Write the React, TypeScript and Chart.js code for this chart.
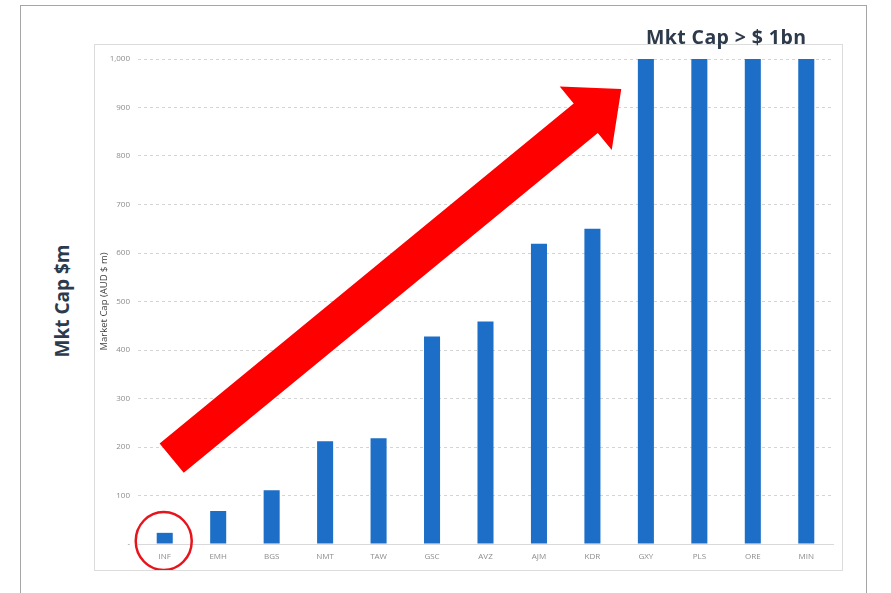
import React, { useEffect, useRef } from "react";
import { Chart, registerables } from "chart.js";

Chart.register(...registerables);

const categories = ["INF", "EMH", "BGS", "NMT", "TAW", "GSC", "AVZ", "AJM", "KDR", "GXY", "PLS", "ORE", "MIN"];
const marketCap = [23, 68, 111, 212, 218, 428, 459, 619, 650, 1000, 1000, 1000, 1000];
const yTicks = [0, 100, 200, 300, 400, 500, 600, 700, 800, 900, 1000];
const arrowFrom = [0.13, 177];
const arrowTo = [8.54, 938];
const circledIndex = 0;

const arrowPlugin = {
  id: "arrowAndCircle",
  afterDatasetsDraw(chart: any) {
    const { ctx, scales } = chart;
    const xs = scales.x;
    const ys = scales.y;
    const x0 = xs.getPixelForValue(arrowFrom[0]);
    const y0 = ys.getPixelForValue(arrowFrom[1]);
    const x1 = xs.getPixelForValue(arrowTo[0]);
    const y1 = ys.getPixelForValue(arrowTo[1]);
    const dx = x1 - x0;
    const dy = y1 - y0;
    const len = Math.sqrt(dx * dx + dy * dy);
    const ux = dx / len;
    const uy = dy / len;
    const px = -uy;
    const py = ux;
    const shaftHalf = 19;
    const headHalf = 41;
    const headLen = 46;
    const bx = x1 - ux * headLen;
    const by = y1 - uy * headLen;
    ctx.save();
    ctx.fillStyle = "#ff0000";
    ctx.beginPath();
    ctx.moveTo(x0 + px * shaftHalf, y0 + py * shaftHalf);
    ctx.lineTo(bx + px * shaftHalf, by + py * shaftHalf);
    ctx.lineTo(bx + px * headHalf, by + py * headHalf);
    ctx.lineTo(x1, y1);
    ctx.lineTo(bx - px * headHalf, by - py * headHalf);
    ctx.lineTo(bx - px * shaftHalf, by - py * shaftHalf);
    ctx.lineTo(x0 - px * shaftHalf, y0 - py * shaftHalf);
    ctx.closePath();
    ctx.fill();

    const cx = xs.getPixelForValue(circledIndex) - 1;
    const cy = ys.getPixelForValue(0) - 3;
    ctx.strokeStyle = "#e8141c";
    ctx.lineWidth = 2.5;
    ctx.beginPath();
    ctx.ellipse(cx, cy, 28, 29, 0, 0, Math.PI * 2);
    ctx.stroke();
    ctx.restore();
  },
};

export default function App() {
  const ref = useRef<HTMLCanvasElement>(null);
  useEffect(() => {
    document.body.style.margin = "0";
    const chart = new Chart(ref.current as HTMLCanvasElement, {
      type: "bar",
      data: {
        labels: categories,
        datasets: [
          {
            data: marketCap,
            backgroundColor: "#1c6ec6",
            categoryPercentage: 1,
            barPercentage: 0.3,
          },
        ],
      },
      options: {
        animation: false,
        responsive: false,
        maintainAspectRatio: false,
        layout: { padding: { top: 14, right: 9, left: 0, bottom: 0 } },
        plugins: { legend: { display: false }, tooltip: { enabled: false }, title: { display: false } },
        scales: {
          x: {
            grid: { display: false, drawTicks: false },
            border: { display: true, color: "#d9d9d9", width: 1 },
            ticks: { color: "#8c8c8c", font: { family: "Open Sans", size: 8 }, padding: 8, maxRotation: 0 },
            afterFit(s: any) {
              s.height = 26;
            },
          },
          y: {
            min: 0,
            max: 1000,
            afterBuildTicks(s: any) {
              s.ticks = yTicks.map((v) => ({ value: v }));
            },
            grid: {
              color: (c: any) => (c.tick && c.tick.value === 0 ? "rgba(0,0,0,0)" : "#d4d4d4"),
              drawTicks: false,
              tickBorderDash: [3, 3],
            },
            border: { display: false, dash: [3, 3] },
            ticks: {
              color: "#8c8c8c",
              font: { family: "Open Sans", size: 8 },
              padding: 8,
              callback: (v: any) => (v === 0 ? "-" : Number(v).toLocaleString("en-US")),
            },
            title: {
              display: true,
              text: "Market Cap (AUD $ m)",
              color: "#404040",
              font: { family: "Open Sans", size: 9.5 },
              padding: { top: 4, bottom: 0 },
            },
            afterFit(s: any) {
              s.width = 43;
            },
          },
        },
      },
      plugins: [arrowPlugin],
    } as any);
    return () => chart.destroy();
  }, []);

  return (
    <div style={{ position: "fixed", left: 0, top: 0, width: 891, height: 593, background: "#ffffff", overflow: "hidden" }}>
      <div style={{ position: "absolute", left: 20, top: 5, width: 845, height: 640, border: "1px solid #a6a6a6" }} />
      <div style={{ position: "absolute", left: 94, top: 44, width: 747, height: 525, border: "1px solid #dcdcdc" }} />
      <canvas ref={ref} width={747} height={525} style={{ position: "absolute", left: 95, top: 45, width: 747, height: 525 }} />
      <div
        style={{
          position: "absolute",
          left: 646,
          top: 25,
          fontFamily: "'Open Sans', sans-serif",
          fontWeight: 700,
          fontSize: 19.5,
          color: "#2d3a4b",
          whiteSpace: "nowrap",
          letterSpacing: 0.4,
          lineHeight: "24px",
        }}
      >
        Mkt Cap &gt; $ 1bn
      </div>
      <div
        style={{
          position: "absolute",
          left: 62,
          top: 301,
          transform: "translate(-50%, -50%) rotate(-90deg)",
          fontFamily: "'Open Sans', sans-serif",
          fontWeight: 700,
          fontSize: 19,
          color: "#2d3a4b",
          whiteSpace: "nowrap",
        }}
      >
        Mkt Cap $m
      </div>
    </div>
  );
}
